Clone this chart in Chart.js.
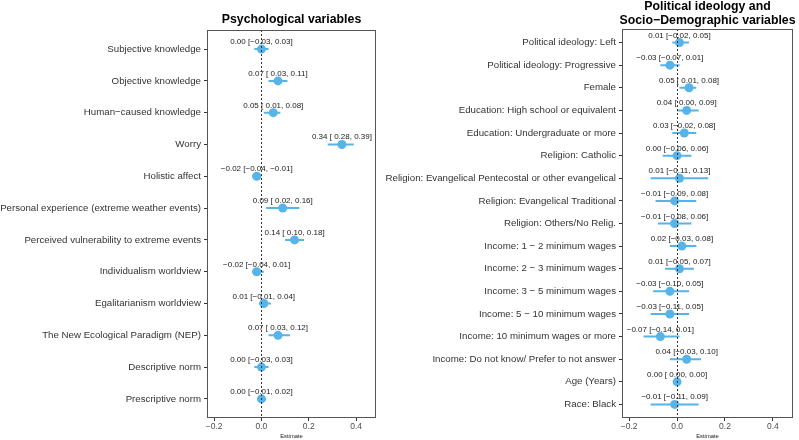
<!DOCTYPE html>
<html>
<head>
<meta charset="utf-8">
<script src="https://cdn.jsdelivr.net/npm/chart.js@4.4.1/dist/chart.umd.min.js"></script>
<style>
  body { margin: 0; background: #ffffff; }
  #wrap { position: relative; width: 799px; height: 440px; overflow: hidden; }
  #leftChart { position: absolute; left: 0; top: 0; }
  #rightChart { position: absolute; left: 360px; top: 0; }
</style>
</head>
<body>
<div id="wrap">
  <canvas id="leftChart" width="400" height="440"></canvas>
  <canvas id="rightChart" width="439" height="440"></canvas>
</div>
<script>
// Left panel: psychological variables
let psychLabels = [
  "Subjective knowledge",
  "Objective knowledge",
  "Human\u2212caused knowledge",
  "Worry",
  "Holistic affect",
  "Personal experience (extreme weather events)",
  "Perceived vulnerability to extreme events",
  "Individualism worldview",
  "Egalitarianism worldview",
  "The New Ecological Paradigm (NEP)",
  "Descriptive norm",
  "Prescriptive norm",
];
let psychEstimate = [0.00, 0.07, 0.05, 0.34, -0.02, 0.09, 0.14, -0.02, 0.01, 0.07, 0.00, 0.00];
let psychLow = [-0.03, 0.03, 0.01, 0.28, -0.04, 0.02, 0.10, -0.04, -0.01, 0.03, -0.03, -0.01];
let psychHigh = [0.03, 0.11, 0.08, 0.39, -0.01, 0.16, 0.18, 0.01, 0.04, 0.12, 0.03, 0.02];

// Right panel: political ideology and socio-demographic variables
let demoLabels = [
  "Political ideology: Left",
  "Political ideology: Progressive",
  "Female",
  "Education: High school or equivalent",
  "Education: Undergraduate or more",
  "Religion: Catholic",
  "Religion: Evangelical Pentecostal or other evangelical",
  "Religion: Evangelical Traditional",
  "Religion: Others/No Relig.",
  "Income: 1 \u2212 2 minimum wages",
  "Income: 2 \u2212 3 minimum wages",
  "Income: 3 \u2212 5 minimum wages",
  "Income: 5 \u2212 10 minimum wages",
  "Income: 10 minimum wages or more",
  "Income: Do not know/ Prefer to not answer",
  "Age (Years)",
  "Race: Black",
];
let demoEstimate = [0.01, -0.03, 0.05, 0.04, 0.03, 0.00, 0.01, -0.01, -0.01, 0.02, 0.01, -0.03, -0.03, -0.07, 0.04, 0.00, -0.01];
let demoLow = [-0.02, -0.07, 0.01, 0.00, -0.02, -0.06, -0.11, -0.09, -0.08, -0.03, -0.05, -0.10, -0.11, -0.14, -0.03, 0.00, -0.11];
let demoHigh = [0.05, 0.01, 0.08, 0.09, 0.08, 0.06, 0.13, 0.08, 0.06, 0.08, 0.07, 0.05, 0.05, 0.01, 0.10, 0.00, 0.09];

let xTicks = [-0.2, 0, 0.2, 0.4];

const BLUE = "#56b4e9";
const FONT = "'Liberation Sans', Arial, Helvetica, sans-serif";

function num(v) {
  let s = Math.abs(v).toFixed(2);
  return v < 0 && s !== "0.00" ? "\u2212" + s : s;
}

// "0.07 [ 0.03, 0.11]" -- low bound gets a pad space when not negative
function ciText(est, lo, hi) {
  let loText = num(lo);
  if (loText[0] !== "\u2212") loText = " " + loText;
  return num(est) + " [" + loText + ", " + num(hi) + "]";
}

// draws estimate text, zero line, panel box and title
const panelPlugin = {
  id: "panel",
  afterDatasetsDraw(chart, args, opts) {
    const ctx = chart.ctx;
    const x = chart.scales.x;
    const y = chart.scales.y;
    const area = chart.chartArea;

    ctx.save();
    ctx.fillStyle = "#1a1a1a";
    ctx.font = "8px " + FONT;
    ctx.textAlign = "center";
    ctx.textBaseline = "alphabetic";
    for (let i = 0; i < opts.est.length; i++) {
      let px = x.getPixelForValue(opts.est[i]);
      let py = y.getPixelForValue(i + 1);
      ctx.fillText(ciText(opts.est[i], opts.lo[i], opts.hi[i]), px, py - 5);
    }

    // dotted reference line at zero
    let zx = Math.round(x.getPixelForValue(0)) + 0.5;
    ctx.strokeStyle = "#333333";
    ctx.lineWidth = 1;
    ctx.setLineDash([2, 2]);
    ctx.beginPath();
    ctx.moveTo(zx, area.top);
    ctx.lineTo(zx, area.bottom);
    ctx.stroke();
    ctx.setLineDash([]);

    // panel border
    ctx.strokeStyle = "#555555";
    ctx.strokeRect(Math.round(area.left) + 0.5, Math.round(area.top) + 0.5,
      Math.round(area.right - area.left) - 1, Math.round(area.bottom - area.top) - 1);

    // title centred on the panel
    ctx.fillStyle = "#000000";
    ctx.font = "bold 12.3px " + FONT;
    let cx = (area.left + area.right) / 2;
    for (let j = 0; j < opts.title.length; j++) {
      ctx.fillText(opts.title[j], cx, opts.titleY[j]);
    }
    ctx.restore();
  },
};

function makeChart(canvasId, labels, est, lo, hi, opts) {
  // error bars as one line with gaps between rows
  let barData = [];
  let pointData = [];
  for (let i = 0; i < labels.length; i++) {
    barData.push({ x: lo[i], y: i + 1 });
    barData.push({ x: hi[i], y: i + 1 });
    barData.push({ x: null, y: null });
    pointData.push({ x: est[i], y: i + 1 });
  }

  const ctx = document.getElementById(canvasId).getContext("2d");
  return new Chart(ctx, {
    type: "scatter",
    data: {
      datasets: [
        {
          data: barData,
          showLine: true,
          spanGaps: false,
          borderColor: BLUE,
          borderWidth: 2,
          pointRadius: 0,
        },
        {
          data: pointData,
          backgroundColor: BLUE,
          borderWidth: 0,
          pointRadius: 4.5,
        },
      ],
    },
    options: {
      responsive: false,
      animation: false,
      layout: {
        padding: { top: opts.top, right: opts.right, bottom: 0, left: 0 },
      },
      plugins: {
        legend: { display: false },
        tooltip: { enabled: false },
        panel: {
          est: est,
          lo: lo,
          hi: hi,
          title: opts.title,
          titleY: opts.titleY,
        },
      },
      scales: {
        x: {
          type: "linear",
          min: -0.23,
          max: 0.484,
          afterBuildTicks(scale) {
            scale.ticks = xTicks.map((v) => ({ value: v }));
          },
          afterFit(scale) {
            scale.height = 22;
          },
          grid: {
            drawOnChartArea: false,
            tickLength: 3,
            color: "#333333",
          },
          border: { display: false },
          ticks: {
            padding: 1,
            color: "#4d4d4d",
            font: { family: FONT, size: 8.5 },
            callback: (v) => (v < 0 ? "\u2212" : "") + Math.abs(v).toFixed(1),
          },
          title: {
            display: true,
            text: "Estimate",
            color: "#1a1a1a",
            padding: 0,
            font: { family: FONT, size: 5.8 },
          },
        },
        y: {
          type: "linear",
          reverse: true,
          min: 0.4,
          max: labels.length + 0.6,
          afterBuildTicks(scale) {
            scale.ticks = labels.map((l, i) => ({ value: i + 1 }));
          },
          afterFit(scale) {
            scale.width = opts.axisWidth;
          },
          grid: {
            drawOnChartArea: false,
            tickLength: 3,
            color: "#333333",
          },
          border: { display: false },
          ticks: {
            padding: 3,
            autoSkip: false,
            color: "#333333",
            font: { family: FONT, size: 9.7 },
            callback: (v) => labels[v - 1],
          },
        },
      },
    },
    plugins: [panelPlugin],
  });
}

makeChart("leftChart", psychLabels, psychEstimate, psychLow, psychHigh, {
  top: 30,
  right: 24,
  axisWidth: 207,
  title: ["Psychological variables"],
  titleY: [22.5],
});

makeChart("rightChart", demoLabels, demoEstimate, demoLow, demoHigh, {
  top: 29,
  right: 6,
  axisWidth: 262,
  title: ["Political ideology and", "Socio\u2212Demographic variables"],
  titleY: [9.5, 23.5],
});
</script>
</body>
</html>
